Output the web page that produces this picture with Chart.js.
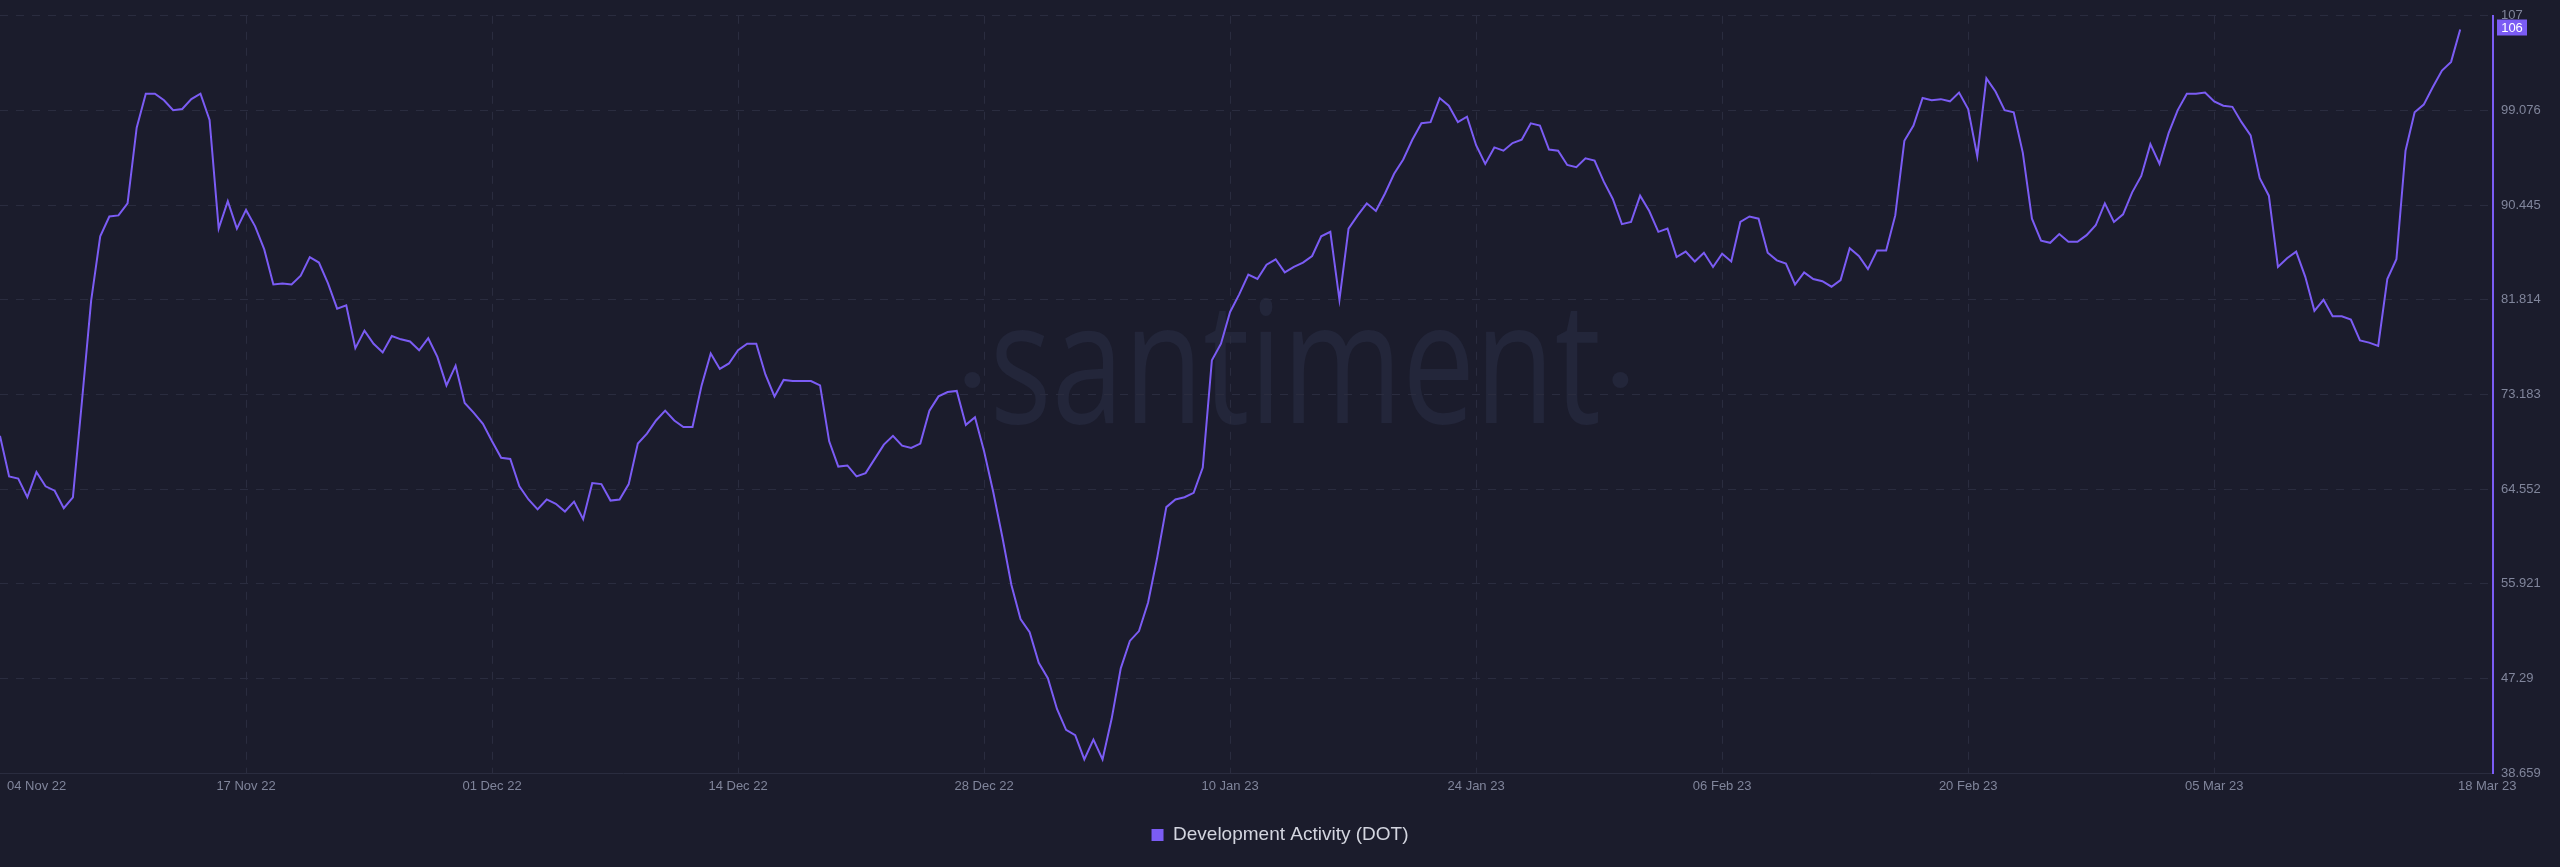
<!DOCTYPE html>
<html>
<head>
<meta charset="utf-8">
<title>Development Activity (DOT)</title>
<script src="https://cdn.jsdelivr.net/npm/chart.js@4.4.0/dist/chart.umd.min.js"></script>
<style>
    html, body { margin: 0; padding: 0; background: #1b1c2c; }
    canvas { display: block; }
</style>
</head>
<body>
<canvas id="dev-chart" width="2560" height="867"></canvas>
<script>
// Development Activity (DOT) at two samples per day, 04 Nov 22 -> 18 Mar 23
const seriesLabel = 'Development Activity (DOT)';

const devActivity = [
    69.4, 65.7, 65.5, 63.8, 66.1, 64.8, 64.4, 62.8, 63.8, 72.6,
    81.7, 87.6, 89.4, 89.5, 90.6, 97.5, 100.6, 100.6, 100.0, 99.1,
    99.2, 100.1, 100.6, 98.2, 88.3, 90.8, 88.3, 90.0, 88.5, 86.4,
    83.2, 83.3, 83.2, 84.0, 85.7, 85.2, 83.3, 81.0, 81.3, 77.4,
    79.0, 77.8, 77.0, 78.5, 78.2, 78.0, 77.2, 78.3, 76.6, 74.0,
    75.8, 72.4, 71.5, 70.5, 68.9, 67.4, 67.3, 64.8, 63.6, 62.7,
    63.6, 63.2, 62.5, 63.4, 61.8, 65.1, 65.0, 63.5, 63.6, 65.0,
    68.7, 69.6, 70.8, 71.7, 70.8, 70.2, 70.2, 74.0, 76.9, 75.5,
    76.0, 77.2, 77.8, 77.8, 75.0, 73.0, 74.5, 74.4, 74.4, 74.4,
    74.0, 68.9, 66.6, 66.7, 65.7, 66.0, 67.3, 68.6, 69.4, 68.5,
    68.3, 68.7, 71.7, 73.0, 73.4, 73.5, 70.4, 71.1, 68.0, 64.3,
    60.2, 55.8, 52.7, 51.5, 48.7, 47.3, 44.5, 42.6, 42.1, 39.9,
    41.7, 39.9, 43.6, 48.2, 50.7, 51.6, 54.2, 58.3, 62.9, 63.6,
    63.8, 64.2, 66.5, 76.3, 77.8, 80.7, 82.3, 84.1, 83.7, 85.0,
    85.5, 84.3, 84.8, 85.2, 85.8, 87.6, 88.0, 81.8, 88.3, 89.5,
    90.6, 89.9, 91.5, 93.3, 94.6, 96.4, 97.9, 98.0, 100.2, 99.5,
    98.0, 98.5, 95.9, 94.2, 95.7, 95.4, 96.1, 96.4, 97.9, 97.7,
    95.5, 95.4, 94.1, 93.9, 94.7, 94.5, 92.6, 91.0, 88.7, 88.9,
    91.3, 89.9, 88.0, 88.3, 85.7, 86.2, 85.3, 86.1, 84.8, 86.0,
    85.3, 88.9, 89.4, 89.2, 86.1, 85.4, 85.1, 83.2, 84.3, 83.7,
    83.5, 83.0, 83.6, 86.5, 85.8, 84.6, 86.3, 86.3, 89.5, 96.3,
    97.7, 100.2, 100.0, 100.1, 99.9, 100.7, 99.2, 94.9, 102.0, 100.8,
    99.1, 98.9, 95.2, 89.2, 87.2, 87.0, 87.8, 87.1, 87.1, 87.7,
    88.6, 90.6, 88.9, 89.6, 91.6, 93.1, 96.0, 94.2, 97.0, 99.1,
    100.6, 100.6, 100.7, 99.9, 99.5, 99.4, 98.0, 96.8, 92.9, 91.3,
    84.8, 85.6, 86.2, 83.9, 80.8, 81.8, 80.3, 80.3, 80.0, 78.1,
    77.9, 77.6, 83.7, 85.5, 95.4, 98.9, 99.6, 101.2, 102.7, 103.5,
    106.45
];

// date labels sit every 13.5 days (27 samples)
const xTickIndex = [0, 27, 54, 81, 108, 135, 162, 189, 216, 243, 270];
const xTickLabels = [
    '04 Nov 22', '17 Nov 22', '01 Dec 22', '14 Dec 22', '28 Dec 22', '10 Jan 23',
    '24 Jan 23', '06 Feb 23', '20 Feb 23', '05 Mar 23', '18 Mar 23'
];
const xMax = 273.6;

const yTickValues = [38.659, 47.29, 55.921, 64.552, 73.183, 81.814, 90.445, 99.076];
const yTopLabel = '107';
const yMin = 38.659;
const yMax = 107.7;

const BG = '#1b1c2c';
const LINE = '#7b5cf4';
const GRID = '#2a2c3f';
const TICK_COLOR = '#80859b';
const WATERMARK = '#23263a';
const FONT = '"Liberation Sans", Arial, sans-serif';

// big faint "·santiment·" behind the line
const watermarkPlugin = {
    id: 'watermark',
    beforeDraw(chart) {
        const ctx = chart.ctx;
        const cx = chart.width * 0.506;
        const base = 423;
        ctx.save();
        ctx.font = '400 170px "Open Sans"';
        const word = 'santiment';
        const sx = 611 / ctx.measureText(word).width;
        ctx.fillStyle = WATERMARK;
        ctx.translate(cx, base);
        ctx.scale(sx, 1);
        ctx.textAlign = 'center';
        ctx.textBaseline = 'alphabetic';
        ctx.fillText(word, 0, 0);
        ctx.restore();

        ctx.save();
        ctx.fillStyle = WATERMARK;
        [cx - 323, cx + 325].forEach(x => {
            ctx.beginPath();
            ctx.arc(x, 380, 8, 0, Math.PI * 2);
            ctx.fill();
        });
        ctx.restore();
    }
};

// date labels: first one kept inside the plot, last one nudged toward the axis
const dateLabelsPlugin = {
    id: 'dateLabels',
    afterDraw(chart) {
        const scale = chart.scales.x;
        const ctx = chart.ctx;
        const y = scale.top + 13;
        ctx.save();
        ctx.font = '13px ' + FONT;
        ctx.fillStyle = TICK_COLOR;
        ctx.textBaseline = 'middle';
        scale.ticks.forEach((tick, i) => {
            const px = scale.getPixelForValue(tick.value);
            if (i === 0) {
                ctx.textAlign = 'left';
                ctx.fillText(xTickLabels[i], px + 7, y);
            } else if (i === scale.ticks.length - 1) {
                ctx.textAlign = 'center';
                ctx.fillText(xTickLabels[i], px + 27, y);
            } else {
                ctx.textAlign = 'center';
                ctx.fillText(xTickLabels[i], px, y);
            }
        });
        ctx.restore();
    }
};

// purple badge with the latest value on the y axis
const lastValuePlugin = {
    id: 'lastValue',
    afterDraw(chart) {
        const ctx = chart.ctx;
        const last = devActivity[devActivity.length - 1];
        const py = chart.scales.y.getPixelForValue(last);
        const left = chart.chartArea.right + 4;
        ctx.save();
        ctx.fillStyle = LINE;
        ctx.fillRect(left, py - 10, 30, 16);
        ctx.fillStyle = '#ffffff';
        ctx.font = '13px ' + FONT;
        ctx.textAlign = 'center';
        ctx.textBaseline = 'middle';
        ctx.fillText(String(Math.floor(last)), left + 15, py - 1);
        ctx.restore();
    }
};

const ctx = document.getElementById('dev-chart').getContext('2d');
new Chart(ctx, {
    type: 'line',
    data: {
        labels: devActivity.map((_, i) => i),
        datasets: [{
            label: seriesLabel,
            data: devActivity,
            borderColor: LINE,
            backgroundColor: LINE,
            borderWidth: 2,
            pointRadius: 0,
            tension: 0,
            fill: false
        }]
    },
    options: {
        responsive: false,
        animation: false,
        layout: {
            padding: { top: 1, bottom: 12.5, left: 0, right: 0 }
        },
        plugins: {
            tooltip: { enabled: false },
            legend: {
                position: 'bottom',
                labels: {
                    color: '#d3d5df',
                    font: { size: 19, family: FONT },
                    boxWidth: 12,
                    boxHeight: 12,
                    padding: 10,
                    generateLabels(chart) {
                        const items = Chart.defaults.plugins.legend.labels.generateLabels(chart);
                        items.forEach(item => {
                            item.fillStyle = LINE;
                            item.lineWidth = 0;
                        });
                        return items;
                    }
                }
            }
        },
        scales: {
            x: {
                type: 'linear',
                min: 0,
                max: xMax,
                afterBuildTicks(scale) {
                    scale.ticks = xTickIndex.map(v => ({ value: v }));
                },
                afterFit(scale) {
                    scale.height = 42.5;
                },
                ticks: { display: false },
                grid: {
                    drawTicks: false,
                    color: c => (c.index === 0 || c.index === xTickIndex.length - 1) ? 'transparent' : GRID
                },
                border: { display: true, color: GRID, width: 1, dash: [8, 8] }
            },
            y: {
                position: 'right',
                min: yMin,
                max: yMax,
                afterBuildTicks(scale) {
                    scale.ticks = [...yTickValues, yMax].map(v => ({ value: v }));
                },
                afterFit(scale) {
                    scale.width = 67;
                },
                ticks: {
                    color: TICK_COLOR,
                    font: { size: 13, family: FONT },
                    padding: 8,
                    callback: (value, index) => index < yTickValues.length ? String(yTickValues[index]) : yTopLabel
                },
                grid: {
                    drawTicks: false,
                    color: GRID
                },
                border: { display: true, color: LINE, width: 2, dash: [8, 8] }
            }
        }
    },
    plugins: [watermarkPlugin, dateLabelsPlugin, lastValuePlugin]
});
</script>
</body>
</html>
